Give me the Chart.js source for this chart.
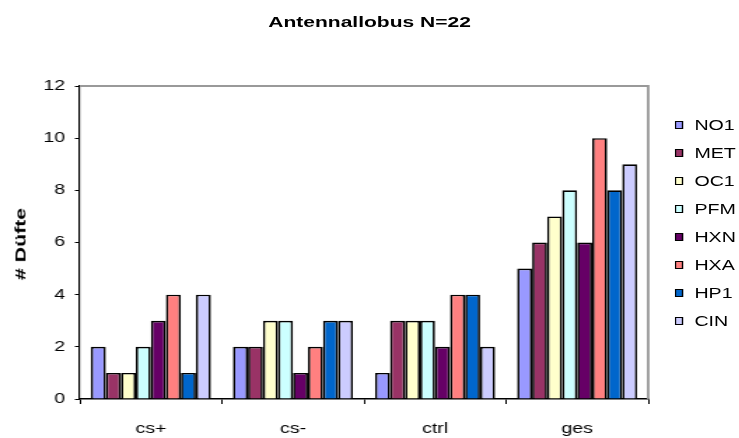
<!DOCTYPE html>
<html>
<head>
<meta charset="utf-8">
<script src="https://cdn.jsdelivr.net/npm/chart.js@4/dist/chart.umd.min.js"></script>
<style>
  html, body { margin: 0; padding: 0; background: #fff; overflow: hidden; }
  /* the original picture is stretched sideways, so draw narrow and widen */
  #wrap { position: relative; width: 528px; height: 438px; transform: scaleX(1.4); transform-origin: 0 0; }
  #title { position: absolute; left: 0; width: 528px; top: 13px; text-align: center; font: bold 15px "Liberation Sans", Arial, sans-serif; color: #000; }
  #legend { position: absolute; left: 482px; top: 111px; font-family: "Liberation Sans", Arial, sans-serif; font-size: 14px; color: #000; }
  #legend .item { height: 28px; display: flex; align-items: center; }
  #legend .box { box-sizing: border-box; width: 6px; height: 8px; border: 1.3px solid #000; margin-right: 8px; }
  #ytitle { position: absolute; left: 20px; top: 244px; white-space: nowrap; font: bold 15px "Liberation Sans", Arial, sans-serif; color: #000;
            transform: translate(-50%, -50%) rotate(-90deg) scaleX(1.42); }
</style>
</head>
<body>
<div id="wrap">
  <canvas id="chart" width="528" height="438"></canvas>
  <div id="title">Antennallobus N=22</div>
  <div id="legend"></div>
</div>
<div id="ytitle"># Düfte</div>
<script>
const categories = ['cs+', 'cs-', 'ctrl', 'ges'];
const seriesNames = ['NO1', 'MET', 'OC1', 'PFM', 'HXN', 'HXA', 'HP1', 'CIN'];
const seriesColors = ['#9999FF', '#993366', '#FFFFCC', '#CCFFFF', '#660066', '#FF8080', '#0066CC', '#CCCCFF'];
const no1 = [2, 2, 1, 5];
const met = [1, 2, 3, 6];
const oc1 = [1, 3, 3, 7];
const pfm = [2, 3, 3, 8];
const hxn = [3, 1, 2, 6];
const hxa = [4, 2, 4, 10];
const hp1 = [1, 3, 4, 8];
const cin = [4, 3, 2, 9];
const seriesValues = [no1, met, oc1, pfm, hxn, hxa, hp1, cin];
const yTicks = [0, 2, 4, 6, 8, 10, 12];

const font = "'Liberation Sans', Arial, sans-serif";

const datasets = seriesNames.map((name, i) => ({
  label: name,
  data: seriesValues[i],
  backgroundColor: seriesColors[i],
  borderColor: '#000',
  borderWidth: 1.7,
  categoryPercentage: 0.845,
  barPercentage: 1.0
}));

// gray frame on top and right of plot area
const framePlugin = {
  id: 'frame',
  afterDraw(chart) {
    const { ctx, chartArea: a } = chart;
    ctx.save();
    ctx.strokeStyle = '#999';
    ctx.lineWidth = 1.8;
    ctx.beginPath();
    ctx.moveTo(a.left, a.top);
    ctx.lineTo(a.right, a.top);
    ctx.lineTo(a.right, a.bottom);
    ctx.stroke();
    ctx.restore();
  }
};

new Chart(document.getElementById('chart'), {
  type: 'bar',
  data: { labels: categories, datasets },
  options: {
    responsive: false,
    animation: false,
    layout: { padding: { left: 0, right: 65, top: 86, bottom: 0 } },
    plugins: {
      legend: { display: false },
      tooltip: { enabled: false }
    },
    scales: {
      x: {
        offset: true,
        grid: { offset: true, drawOnChartArea: false, color: '#000', tickLength: 5 },
        border: { color: '#000', width: 1.5 },
        ticks: { color: '#000', font: { family: font, size: 14 }, padding: 17 },
        afterFit(scale) { scale.height = 39; }
      },
      y: {
        min: 0,
        max: 12,
        afterBuildTicks(scale) { scale.ticks = yTicks.map(v => ({ value: v })); },
        grid: { drawOnChartArea: false, color: '#000', tickLength: 3.5 },
        border: { color: '#000', width: 1.2 },
        ticks: { color: '#000', font: { family: font, size: 14 }, padding: 7 },
        afterFit(scale) { scale.width = 57; }
      }
    }
  },
  plugins: [framePlugin]
});

const legend = document.getElementById('legend');
seriesNames.forEach((name, i) => {
  const item = document.createElement('div');
  item.className = 'item';
  item.innerHTML = '<span class="box" style="background:' + seriesColors[i] + '"></span>' + name;
  legend.appendChild(item);
});
</script>
</body>
</html>
